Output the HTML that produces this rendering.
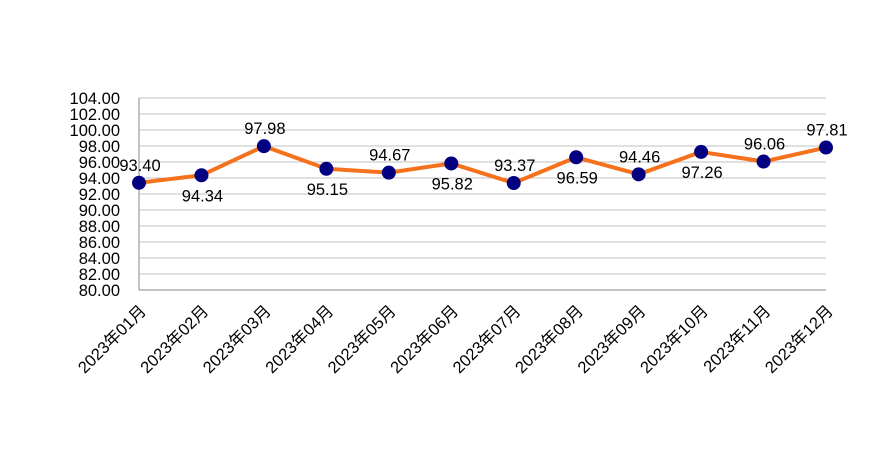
<!DOCTYPE html>
<html><head><meta charset="utf-8"><style>
body{margin:0;background:#fff;}
svg{display:block;font-family:"Liberation Sans","Noto Sans CJK SC",sans-serif;}
</style></head><body>
<svg id="chart" width="871" height="450"></svg>
<script>
const categories=["2023年01月","2023年02月","2023年03月","2023年04月","2023年05月","2023年06月","2023年07月","2023年08月","2023年09月","2023年10月","2023年11月","2023年12月"];
const values=[93.40,94.34,97.98,95.15,94.67,95.82,93.37,96.59,94.46,97.26,96.06,97.81];
const labelPos=["above","below","above","below","above","below","above","below","above","below","above","above"];
const yTicks=[80,82,84,86,88,90,92,94,96,98,100,102,104];
const NS="http://www.w3.org/2000/svg";
const svg=document.getElementById("chart");
const x0=139,x1=826,yTop=98,yBot=290,yMin=80,yMax=104;
const xs=i=>x0+i*(x1-x0)/(categories.length-1);
const ys=v=>yBot-(v-yMin)/(yMax-yMin)*(yBot-yTop);
function mk(t,a){const e=document.createElementNS(NS,t);for(const k in a)e.setAttribute(k,a[k]);svg.appendChild(e);return e;}
yTicks.forEach(t=>{
  const l=mk("line",{x1:x0,x2:x1,y1:ys(t),y2:ys(t),stroke:t===yMin?"#888":"#c0c0c0","stroke-width":1});
  
  
  const tx=mk("text",{x:120,y:ys(t)+6,"text-anchor":"end","font-size":16.5,fill:"#000"});
  tx.textContent=t.toFixed(2);
  
  
});
const ax=mk("line",{x1:x0,x2:x0,y1:yTop,y2:yBot,stroke:"#888","stroke-width":1});


const pl=mk("polyline",{points:values.map((v,i)=>xs(i)+","+ys(v)).join(" "),fill:"none",stroke:"#f5711c","stroke-width":4,"stroke-linejoin":"round"});


values.forEach((v,i)=>{
  const c=mk("circle",{cx:xs(i),cy:ys(v),r:7,fill:"#000080"});
  
  
  const above=labelPos[i]==="above";
  const t=mk("text",{x:xs(i)+1,y:above?ys(v)-12:ys(v)+26,"text-anchor":"middle","font-size":16.5,fill:"#000"});
  t.textContent=v.toFixed(2);
  
  
  const xl=mk("text",{x:0,y:0,"text-anchor":"end","font-size":16.5,fill:"#000",transform:`translate(${xs(i)+8},${yBot+22}) rotate(-45)`});
  xl.textContent=categories[i];
  
  
});
</script>
</body></html>
